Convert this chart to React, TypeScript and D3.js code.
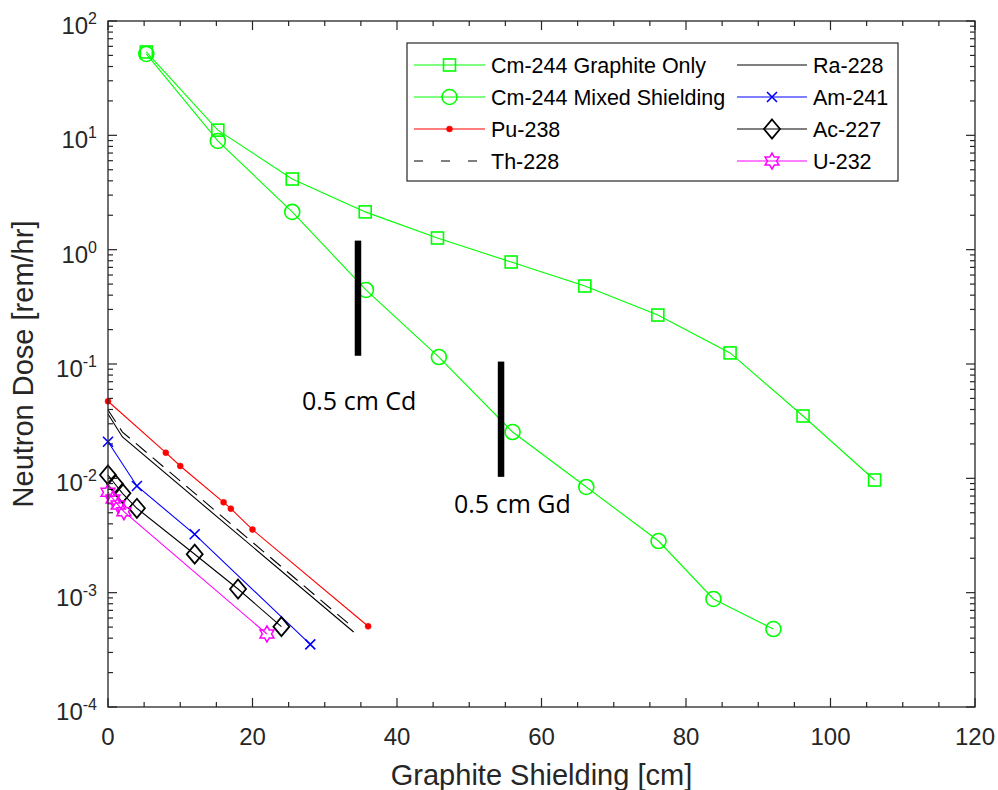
import React from "react";
import * as d3 from "d3";

// ---- data ----
const cmGraphiteX = [5.3, 15.2, 25.5, 35.6, 45.6, 55.8, 66.0, 76.1, 86.1, 96.2, 106.1];
const cmGraphiteY = [53.6, 11.1, 4.15, 2.14, 1.265, 0.78, 0.481, 0.268, 0.125, 0.0351, 0.00967];

const cmMixedX = [5.3, 15.2, 25.5, 35.7, 45.8, 56.0, 66.2, 76.2, 83.8, 92.1];
const cmMixedY = [51.5, 8.93, 2.14, 0.444, 0.115, 0.0254, 0.0084, 0.00283, 0.000881, 0.000481];

const pu238X = [0, 8, 10, 16, 17, 20, 36];
const pu238Y = [0.0472, 0.01676, 0.01282, 0.00617, 0.00543, 0.00356, 0.000508];

const th228X = [0, 2, 34];
const th228Y = [0.0396, 0.0254, 0.000491];

const ra228X = [0, 2, 34];
const ra228Y = [0.0365, 0.023, 0.000453];

const am241X = [0, 4, 12, 28];
const am241Y = [0.0209, 0.00857, 0.00324, 0.000353];

const ac227X = [0, 1, 2, 4, 12, 18, 24];
const ac227Y = [0.0107, 0.00887, 0.0074, 0.00547, 0.00217, 0.001077, 0.000504];

const u232X = [0, 0.7, 1.4, 2.2, 22];
const u232Y = [0.00755, 0.0066, 0.00585, 0.00511, 0.000435];

const barX = [34.6, 54.4];
const barTop = [1.2, 0.105];
const barBottom = [0.118, 0.0103];
const barLabels = ["0.5 cm Cd", "0.5 cm Gd"];

const xTicksMajor = [0, 20, 40, 60, 80, 100, 120];
const yTicksMajorExp = [-4, -3, -2, -1, 0, 1, 2];

// ---- layout ----
const W = 998, H = 790;
const L = 108, R = 975, T = 21, B = 707;
const AX = "#262626";
const FONT = "'Liberation Sans', Arial, Helvetica, sans-serif";

const x = d3.scaleLinear().domain([0, 120]).range([L, R]);
const y = d3.scaleLog().domain([1e-4, 1e2]).range([B, T]);

type MarkerKind = "square" | "circle" | "dot" | "x" | "diamond" | "hexagram" | "none";

function Marker({ kind, cx, cy, color }: { kind: MarkerKind; cx: number; cy: number; color: string }) {
  switch (kind) {
    case "square":
      return <rect x={cx - 6} y={cy - 6} width={12} height={12} fill="none" stroke={color} strokeWidth={1.6} />;
    case "circle":
      return <circle cx={cx} cy={cy} r={7.5} fill="none" stroke={color} strokeWidth={1.6} />;
    case "dot":
      return <circle cx={cx} cy={cy} r={3} fill={color} stroke={color} strokeWidth={0.5} />;
    case "x":
      return (
        <path
          d={`M${cx - 5},${cy - 5}L${cx + 5},${cy + 5}M${cx - 5},${cy + 5}L${cx + 5},${cy - 5}`}
          stroke={color}
          strokeWidth={1.6}
          fill="none"
        />
      );
    case "diamond":
      return (
        <path
          d={`M${cx},${cy - 9.5}L${cx + 8},${cy}L${cx},${cy + 9.5}L${cx - 8},${cy}Z`}
          fill="none"
          stroke={color}
          strokeWidth={1.8}
        />
      );
    case "hexagram": {
      const ro = 8, ri = ro / Math.sqrt(3);
      const pts: string[] = [];
      for (let i = 0; i < 12; i++) {
        const a = -Math.PI / 2 + (i * Math.PI) / 6;
        const r = i % 2 === 0 ? ro : ri;
        pts.push(`${cx + r * Math.cos(a)},${cy + r * Math.sin(a)}`);
      }
      return <polygon points={pts.join(" ")} fill="none" stroke={color} strokeWidth={1.5} />;
    }
    default:
      return null;
  }
}

interface Series {
  name: string;
  xs: number[];
  ys: number[];
  color: string;
  marker: MarkerKind;
  dash?: string;
  legendDash?: string;
}

const series: Series[] = [
  { name: "Cm-244 Graphite Only", xs: cmGraphiteX, ys: cmGraphiteY, color: "#00FF00", marker: "square" },
  { name: "Cm-244 Mixed Shielding", xs: cmMixedX, ys: cmMixedY, color: "#00FF00", marker: "circle" },
  { name: "Pu-238", xs: pu238X, ys: pu238Y, color: "#FF0000", marker: "dot" },
  { name: "Th-228", xs: th228X, ys: th228Y, color: "#000000", marker: "none", dash: "14,8", legendDash: "9,18" },
  { name: "Ra-228", xs: ra228X, ys: ra228Y, color: "#000000", marker: "none" },
  { name: "Am-241", xs: am241X, ys: am241Y, color: "#0000FF", marker: "x" },
  { name: "Ac-227", xs: ac227X, ys: ac227Y, color: "#000000", marker: "diamond" },
  { name: "U-232", xs: u232X, ys: u232Y, color: "#FF00FF", marker: "hexagram" },
];

const line = d3
  .line<[number, number]>()
  .x((d) => x(d[0]))
  .y((d) => y(d[1]));

export default function App() {
  const xMinor = d3.range(0, 121, 5);
  const yMinor: number[] = [];
  for (let e = -4; e < 2; e++) for (let k = 2; k <= 9; k++) yMinor.push(k * Math.pow(10, e));

  // legend layout
  const legX = 407, legY = 43, legW = 491, legH = 138;
  const rowY = [65, 97, 129, 161];
  const cols = [
    { l0: 414, l1: 485, tx: 491 },
    { l0: 737, l1: 807, tx: 813 },
  ];

  return (
    <svg
      width={W}
      height={H}
      style={{ position: "absolute", left: 0, top: 0, background: "#fff" }}
      fontFamily={FONT}
    >
      <rect x={0} y={0} width={W} height={H} fill="#fff" />

      {/* axes box ticks */}
      <g stroke={AX} strokeWidth={1.2}>
        {xMinor.map((v) => {
          const major = v % 20 === 0;
          const len = major ? 9 : 5;
          return (
            <g key={"xt" + v}>
              <line x1={x(v)} x2={x(v)} y1={B} y2={B - len} />
              <line x1={x(v)} x2={x(v)} y1={T} y2={T + len} />
            </g>
          );
        })}
        {yMinor.map((v, i) => (
          <g key={"ym" + i}>
            <line x1={L} x2={L + 5} y1={y(v)} y2={y(v)} />
            <line x1={R} x2={R - 5} y1={y(v)} y2={y(v)} />
          </g>
        ))}
        {yTicksMajorExp.map((e) => (
          <g key={"yM" + e}>
            <line x1={L} x2={L + 9} y1={y(Math.pow(10, e))} y2={y(Math.pow(10, e))} />
            <line x1={R} x2={R - 9} y1={y(Math.pow(10, e))} y2={y(Math.pow(10, e))} />
          </g>
        ))}
      </g>

      {/* series lines */}
      {series.map((s) => (
        <path
          key={"l" + s.name}
          d={line(s.xs.map((v, i) => [v, s.ys[i]] as [number, number])) || ""}
          fill="none"
          stroke={s.color}
          strokeWidth={1.1}
          strokeDasharray={s.dash}
        />
      ))}
      {/* markers */}
      {series.map((s) =>
        s.xs.map((v, i) => (
          <Marker key={s.name + i} kind={s.marker} cx={x(v)} cy={y(s.ys[i])} color={s.color} />
        ))
      )}

      {/* shielding bars */}
      {barX.map((v, i) => (
        <line
          key={"bar" + i}
          x1={x(v)}
          x2={x(v)}
          y1={y(barTop[i])}
          y2={y(barBottom[i])}
          stroke="#000"
          strokeWidth={6.5}
        />
      ))}
      <text x={302} y={410} fontFamily="'Open Sans', 'Noto Sans', sans-serif" fontSize={25} fill="#000">
        {barLabels[0]}
      </text>
      <text x={454} y={513} fontFamily="'Open Sans', 'Noto Sans', sans-serif" fontSize={25} fill="#000">
        {barLabels[1]}
      </text>

      {/* axis box */}
      <rect x={L} y={T} width={R - L} height={B - T} fill="none" stroke={AX} strokeWidth={1.3} />

      {/* x tick labels */}
      {xTicksMajor.map((v) => (
        <text key={"xl" + v} x={x(v)} y={745} textAnchor="middle" fontSize={24} fill={AX}>
          {v}
        </text>
      ))}
      {/* y tick labels */}
      {yTicksMajorExp.map((e) => (
        <text key={"yl" + e} x={97} y={y(Math.pow(10, e)) + 13} textAnchor="end" fontSize={24} fill={AX}>
          10
          <tspan fontSize={16} dy={-10}>
            {String(e).replace("-", "-")}
          </tspan>
        </text>
      ))}

      {/* axis labels */}
      <text x={(L + R) / 2} y={785} textAnchor="middle" fontSize={29} fill={AX}>
        Graphite Shielding [cm]
      </text>
      <text
        transform={`translate(33,${(T + B) / 2}) rotate(-90)`}
        textAnchor="middle"
        fontSize={29}
        fill={AX}
      >
        Neutron Dose [rem/hr]
      </text>

      {/* legend */}
      <rect x={legX} y={legY} width={legW} height={legH} fill="#fff" stroke={AX} strokeWidth={1.2} />
      {series.map((s, i) => {
        const c = cols[Math.floor(i / 4)];
        const ry = rowY[i % 4];
        return (
          <g key={"lg" + s.name}>
            <line
              x1={c.l0}
              x2={c.l1}
              y1={ry}
              y2={ry}
              stroke={s.color}
              strokeWidth={1.1}
              strokeDasharray={s.legendDash}
            />
            <Marker kind={s.marker} cx={(c.l0 + c.l1) / 2} cy={ry} color={s.color} />
            <text x={c.tx} y={ry + 7.5} fontSize={21.5} fill="#000">
              {s.name}
            </text>
          </g>
        );
      })}
    </svg>
  );
}
